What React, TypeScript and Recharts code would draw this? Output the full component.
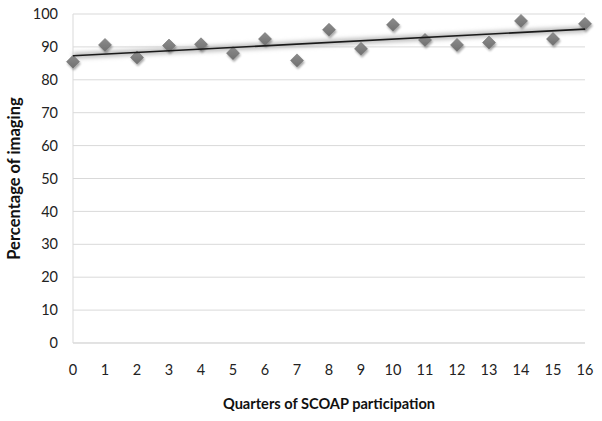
import { ScatterChart, Scatter, XAxis, YAxis, CartesianGrid, Label } from 'recharts';

// quarters of participation (x) and percentage of imaging (y)
const quarters = [0, 1, 2, 3, 4, 5, 6, 7, 8, 9, 10, 11, 12, 13, 14, 15, 16];
const imaging = [85.5, 90.6, 86.8, 90.4, 90.8, 88.1, 92.4, 85.9, 95.2, 89.4, 96.7, 92.1, 90.6, 91.3, 97.9, 92.4, 97.0];

// linear trend endpoints
const trendQuarters = [0, 16];
const trendValues = [87.3, 95.4];

const xTicks = quarters;
const yTicks = [0, 10, 20, 30, 40, 50, 60, 70, 80, 90, 100];

const points = quarters.map((q, i) => ({ x: q, y: imaging[i] }));
const trend = trendQuarters.map((q, i) => ({ x: q, y: trendValues[i] }));

const font = 'Lato, "Open Sans", sans-serif';

const Diamond = (props: any) => {
    const { cx, cy } = props;
    if (cx == null || cy == null) return null;
    const r = 6.5;
    return (
        <polygon
            points={`${cx},${cy - r} ${cx + r},${cy} ${cx},${cy + r} ${cx - r},${cy}`}
            fill="url(#diamondFill)"
            stroke="#6e6e6e"
            strokeWidth={0.6}
            filter="url(#dropShadow)"
        />
    );
};

const NoDot = () => null;

export default function App() {
    return (
        <div style={{ position: 'absolute', left: 0, top: 0, width: 602, height: 421, background: '#fff' }}>
            <ScatterChart width={602} height={421} margin={{ top: 14, right: 17, bottom: 0, left: 0 }}>
                <defs>
                    <linearGradient id="diamondFill" x1="0" y1="0" x2="0" y2="1">
                        <stop offset="0%" stopColor="#8c8c8c" />
                        <stop offset="100%" stopColor="#707070" />
                    </linearGradient>
                    <filter id="dropShadow" x="-50%" y="-50%" width="200%" height="200%">
                        <feGaussianBlur in="SourceAlpha" stdDeviation="1.2" />
                        <feOffset dx="1" dy="1.5" result="blur" />
                        <feComponentTransfer>
                            <feFuncA type="linear" slope="0.35" />
                        </feComponentTransfer>
                        <feMerge>
                            <feMergeNode />
                            <feMergeNode in="SourceGraphic" />
                        </feMerge>
                    </filter>
                    <filter id="glow" x="-5%" y="-200%" width="110%" height="500%">
                        <feGaussianBlur stdDeviation="2" />
                    </filter>
                </defs>
                <CartesianGrid vertical={false} stroke="#d9d9d9" strokeWidth={1} />
                <XAxis
                    type="number"
                    dataKey="x"
                    domain={[0, 16]}
                    ticks={xTicks}
                    interval={0}
                    height={78}
                    axisLine={{ stroke: '#d9d9d9' }}
                    tickLine={false}
                    tickSize={0}
                    tickMargin={22}
                    tick={{ fill: '#222', fontSize: 14.5, fontFamily: font }}
                >
                    <Label
                        value="Quarters of SCOAP participation"
                        position="insideBottom"
                        offset={12}
                        style={{ fill: '#111', fontSize: 14.6, fontWeight: 700, fontFamily: font }}
                    />
                </XAxis>
                <YAxis
                    type="number"
                    dataKey="y"
                    domain={[0, 100]}
                    ticks={yTicks}
                    interval={0}
                    width={73}
                    axisLine={{ stroke: '#d9d9d9' }}
                    tickLine={false}
                    tickSize={0}
                    tickMargin={15}
                    tick={{ fill: '#222', fontSize: 14.5, fontFamily: font }}
                >
                    <Label
                        value="Percentage of imaging"
                        angle={-90}
                        position="insideLeft"
                        offset={14}
                        style={{ textAnchor: 'middle', fill: '#111', fontSize: 16.5, fontWeight: 700, fontFamily: font }}
                    />
                </YAxis>
                <Scatter
                    data={trend}
                    line={{ stroke: '#bdbdbd', strokeWidth: 6, filter: 'url(#glow)' }}
                    shape={NoDot}
                    isAnimationActive={false}
                />
                <Scatter data={points} shape={Diamond} isAnimationActive={false} />
                <Scatter
                    data={trend}
                    line={{ stroke: '#1a1a1a', strokeWidth: 1.6 }}
                    shape={NoDot}
                    isAnimationActive={false}
                />
            </ScatterChart>
        </div>
    );
}
